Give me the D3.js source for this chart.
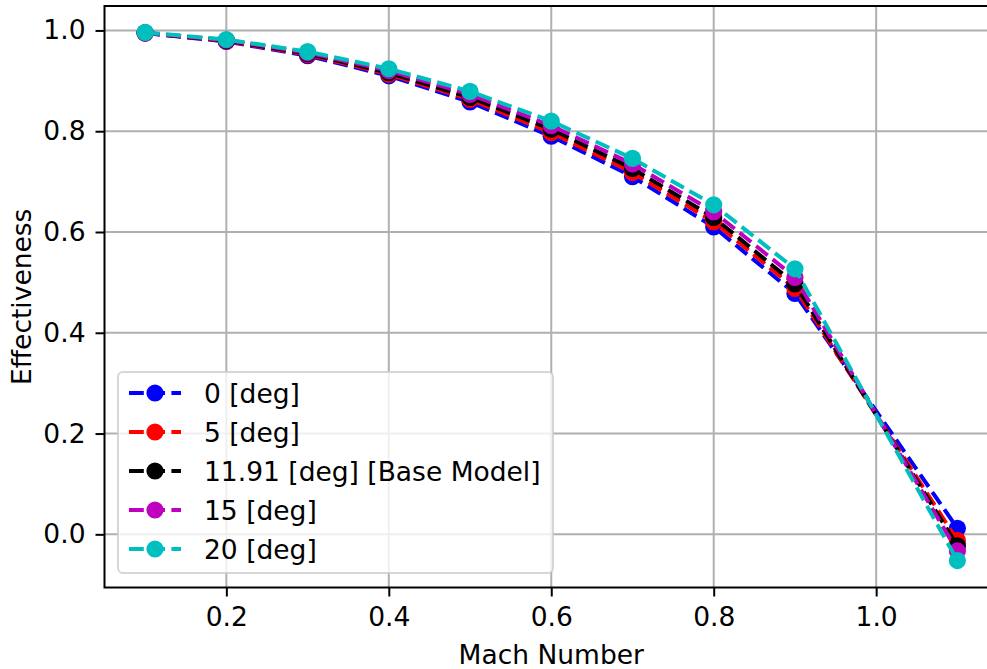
<!DOCTYPE html>
<html><head><meta charset="utf-8">
<script src="https://cdn.jsdelivr.net/npm/d3@7"></script>
<style>body{margin:0;background:#fff}svg{display:block}</style>
</head><body><svg id="c" width="987" height="669"></svg>
<script>
// ---- data ----
const mach = [0.1, 0.2, 0.3, 0.4, 0.5, 0.6, 0.7, 0.8, 0.9, 1.1];
const seriesNames = ["0 [deg]", "5 [deg]", "11.91 [deg] [Base Model]", "15 [deg]", "20 [deg]"];
const eff0   = [0.995, 0.978, 0.950, 0.910, 0.858, 0.790, 0.710, 0.610, 0.478, 0.012];
const eff5   = [0.995, 0.979, 0.952, 0.913, 0.863, 0.797, 0.718, 0.620, 0.488, -0.012];
const eff1191= [0.995, 0.980, 0.954, 0.916, 0.867, 0.804, 0.726, 0.629, 0.497, -0.023];
const eff15  = [0.995, 0.981, 0.956, 0.920, 0.873, 0.811, 0.735, 0.640, 0.510, -0.033];
const eff20  = [0.996, 0.982, 0.958, 0.924, 0.879, 0.820, 0.746, 0.654, 0.527, -0.052];
const xTickValues = [0.2, 0.4, 0.6, 0.8, 1.0];
const yTickValues = [0.0, 0.2, 0.4, 0.6, 0.8, 1.0];
const xTitle = "Mach Number";
const yTitle = "Effectiveness";

// ---- styles ----
const colors = ["#0000ff", "#ff0000", "#000000", "#bf00bf", "#00bfbf"];
const allSeries = [eff0, eff5, eff1191, eff15, eff20];
const FONT = "'DejaVu Sans', sans-serif";
const FS = 26.5;

const svg = d3.select("#c");
svg.append("rect").attr("width", 987).attr("height", 669).attr("fill", "#fff");

const L = 104.5, R = 998, T = 6, B = 587.5;
const x = d3.scaleLinear().domain([0.05, 1.15]).range([L, R]);
const y = d3.scaleLinear().domain([-0.1055, 1.0485]).range([B, T]);

// grid
const g = svg.append("g");
g.selectAll(".gx").data(xTickValues).join("line")
  .attr("x1", d => x(d)).attr("x2", d => x(d)).attr("y1", T).attr("y2", B)
  .attr("stroke", "#b0b0b0").attr("stroke-width", 2);
g.selectAll(".gy").data(yTickValues).join("line")
  .attr("y1", d => y(d)).attr("y2", d => y(d)).attr("x1", L).attr("x2", R)
  .attr("stroke", "#b0b0b0").attr("stroke-width", 2);

// series
const line = d3.line().x((d, i) => x(mach[i])).y(d => y(d));
allSeries.forEach((s, k) => {
  const sg = svg.append("g");
  sg.append("path").attr("d", line(s)).attr("fill", "none")
    .attr("stroke", colors[k]).attr("stroke-width", 4)
    .attr("stroke-dasharray", "14.8,6.4");
  sg.selectAll("circle").data(s).join("circle")
    .attr("cx", (d, i) => x(mach[i])).attr("cy", d => y(d)).attr("r", 8.6)
    .attr("fill", colors[k]);
});

// axes
const xAxis = svg.append("g").attr("transform", `translate(0,${B})`)
  .call(d3.axisBottom(x).tickValues(xTickValues).tickFormat(d3.format(".1f")).tickSize(9).tickPadding(9).tickSizeOuter(0));
const yAxis = svg.append("g").attr("transform", `translate(${L},0)`)
  .call(d3.axisLeft(y).tickValues(yTickValues).tickFormat(d3.format(".1f")).tickSize(9).tickPadding(10).tickSizeOuter(0));
[xAxis, yAxis].forEach(a => {
  a.select(".domain").remove();
  a.selectAll(".tick line").attr("stroke", "#000").attr("stroke-width", 2);
  a.selectAll(".tick text").attr("font-family", FONT).attr("font-size", FS).attr("fill", "#000");
});
xAxis.selectAll(".tick text").attr("dy", "0.76em");

// spines
svg.append("rect").attr("x", L).attr("y", T).attr("width", R - L).attr("height", B - T)
  .attr("fill", "none").attr("stroke", "#000").attr("stroke-width", 2);

// titles
svg.append("text").attr("x", (L + R) / 2).attr("y", 664).attr("text-anchor", "middle")
  .attr("font-family", FONT).attr("font-size", FS).text(xTitle);
svg.append("text").attr("transform", `translate(31,${(T + B) / 2}) rotate(-90)`).attr("text-anchor", "middle")
  .attr("font-family", FONT).attr("font-size", FS).text(yTitle);

// legend
const lg = svg.append("g");
lg.append("rect").attr("x", 118).attr("y", 372).attr("width", 435).attr("height", 201).attr("rx", 5)
  .attr("fill", "#fff").attr("fill-opacity", 0.8).attr("stroke", "#cccccc").attr("stroke-opacity", 0.8).attr("stroke-width", 2);
seriesNames.forEach((name, k) => {
  const cy = 393 + k * 39;
  lg.append("line").attr("x1", 129).attr("x2", 181).attr("y1", cy).attr("y2", cy)
    .attr("stroke", colors[k]).attr("stroke-width", 4).attr("stroke-dasharray", "14.8,6.4");
  lg.append("circle").attr("cx", 155).attr("cy", cy).attr("r", 8.6).attr("fill", colors[k]);
  lg.append("text").attr("x", 204).attr("y", cy).attr("dy", "0.36em")
    .attr("font-family", FONT).attr("font-size", FS).text(name);
});
</script></body></html>
